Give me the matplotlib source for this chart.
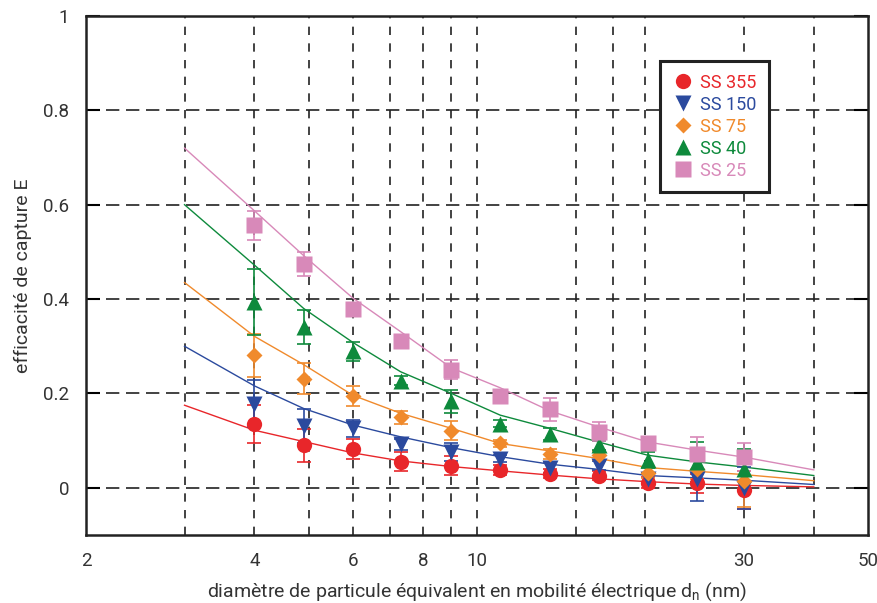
import numpy as np
import matplotlib.pyplot as plt
from matplotlib.lines import Line2D

plt.rcParams['font.family'] = ['Roboto', 'DejaVu Sans']

# particle diameters (nm) of the measured points
d = [4, 4.9, 6, 7.3, 9, 11, 13.5, 16.5, 20.2, 24.7, 30]

labels = ['SS 355', 'SS 150', 'SS 75', 'SS 40', 'SS 25']
colors = ['#E8262A', '#2B4A9E', '#F08A2C', '#0E8A3C', '#D889B9']
markers = ['o', 'v', 'D', '^', 's']
msizes = [11, 11, 8.5, 11, 12]

# measured capture efficiency
E_355 = [0.136, 0.090, 0.082, 0.055, 0.047, 0.038, 0.030, 0.026, 0.011, 0.010, -0.004]
E_150 = [0.178, 0.131, 0.126, 0.092, 0.076, 0.062, 0.043, 0.047, 0.019, 0.019, 0.000]
E_75 = [0.281, 0.231, 0.195, 0.149, 0.121, 0.094, 0.072, 0.069, 0.032, 0.039, 0.014]
E_40 = [0.393, 0.340, 0.289, 0.227, 0.183, 0.136, 0.114, 0.090, 0.059, 0.055, 0.040]
E_25 = [0.556, 0.474, 0.380, 0.312, 0.250, 0.195, 0.166, 0.119, 0.094, 0.071, 0.065]

err_355 = [0.040, 0.035, 0.022, 0.020, 0.020, 0.010, 0.010, 0.010, 0.012, 0.020, 0.040]
err_150 = [0.050, 0.036, 0.018, 0.012, 0.020, 0.008, 0.012, 0.010, 0.012, 0.048, 0.045]
err_75 = [0.046, 0.033, 0.021, 0.014, 0.020, 0.008, 0.010, 0.010, 0.012, 0.020, 0.055]
err_40 = [0.070, 0.036, 0.020, 0.010, 0.025, 0.008, 0.012, 0.010, 0.016, 0.042, 0.042]
err_25 = [0.030, 0.025, 0.010, 0.008, 0.020, 0.006, 0.025, 0.020, 0.010, 0.037, 0.030]

# fitted curves, read at these diameters
d_fit = [3, 4, 4.9, 6, 7.3, 9, 11, 13.5, 16.5, 20.2, 24.7, 30, 40]
fit_355 = [0.175, 0.122, 0.098, 0.074, 0.057, 0.045, 0.036, 0.027, 0.019, 0.013, 0.008, 0.005, 0.002]
fit_150 = [0.300, 0.216, 0.168, 0.133, 0.108, 0.085, 0.066, 0.050, 0.039, 0.026, 0.021, 0.016, 0.007]
fit_75 = [0.435, 0.321, 0.261, 0.196, 0.158, 0.126, 0.094, 0.078, 0.062, 0.043, 0.035, 0.028, 0.015]
fit_40 = [0.600, 0.472, 0.380, 0.308, 0.246, 0.200, 0.154, 0.126, 0.097, 0.069, 0.055, 0.044, 0.026]
fit_25 = [0.720, 0.587, 0.492, 0.402, 0.331, 0.254, 0.212, 0.163, 0.129, 0.097, 0.080, 0.065, 0.038]

series = [E_355, E_150, E_75, E_40, E_25]
errors = [err_355, err_150, err_75, err_40, err_25]
fits = [fit_355, fit_150, fit_75, fit_40, fit_25]

x_grid = [3, 4, 5, 6, 7, 8, 9, 10, 15, 17.5, 20, 30, 40]
x_ticks = [2, 4, 6, 8, 10, 30, 50]

fig = plt.figure(figsize=(8.78, 6.03), dpi=100)
ax = fig.add_axes([0.098, 0.1128, 0.8906, 0.8607])

for xg in x_grid:
    ax.axvline(xg, color='#222222', lw=1.2, ls=(0, (5, 5)), zorder=0)
for yg in [0, 0.2, 0.4, 0.6, 0.8]:
    ax.axhline(yg, color='#222222', lw=1.2, ls=(0, (8, 4)), zorder=0)

for i in range(5):
    ax.plot(d_fit, fits[i], color=colors[i], lw=1, zorder=2)
for i in range(5):
    ax.errorbar(d, series[i], yerr=errors[i], fmt=markers[i], color=colors[i],
                ms=msizes[i], mec='none', elinewidth=1.2, capsize=5, capthick=1.2,
                zorder=3)

ax.set_xscale('log')
ax.set_xlim(2, 50)
ax.set_ylim(-0.1, 1)
ax.set_xticks(x_ticks)
ax.set_xticklabels([str(t) for t in x_ticks])
ax.xaxis.set_minor_locator(plt.NullLocator())
ax.set_yticks([0, 0.2, 0.4, 0.6, 0.8, 1])
ax.set_yticklabels(['0', '0.2', '0.4', '0.6', '0.8', '1'])
ax.tick_params(axis='x', length=0, pad=12, labelsize=13.5, labelcolor='#333333')
ax.tick_params(axis='y', direction='in', length=10, width=1.5, right=True,
               labelsize=13.5, labelcolor='#333333', pad=12)
for s in ax.spines.values():
    s.set_linewidth(1.8)
    s.set_color('#222222')

ax.set_ylabel('efficacité de capture E', fontsize=14, color='#333333', labelpad=8)
ax.set_xlabel('diamètre de particule équivalent en mobilité électrique d$_\\mathregular{n}$ (nm)',
              fontsize=14, color='#333333', labelpad=8)

handles = [Line2D([], [], ls='none', marker=markers[i], color=colors[i],
                  ms=msizes[i], mec='none') for i in range(5)]
leg = ax.legend(handles, labels, loc='upper left', bbox_to_anchor=(0.734, 0.913),
                fontsize=13, frameon=True, fancybox=False, edgecolor='#222222',
                framealpha=1, handletextpad=0.3, handlelength=1.2, borderpad=0.7,
                labelspacing=0.22, borderaxespad=0)
leg.get_frame().set_linewidth(2.2)
for txt, c in zip(leg.get_texts(), colors):
    txt.set_color(c)

plt.savefig('out.png', dpi=100)
